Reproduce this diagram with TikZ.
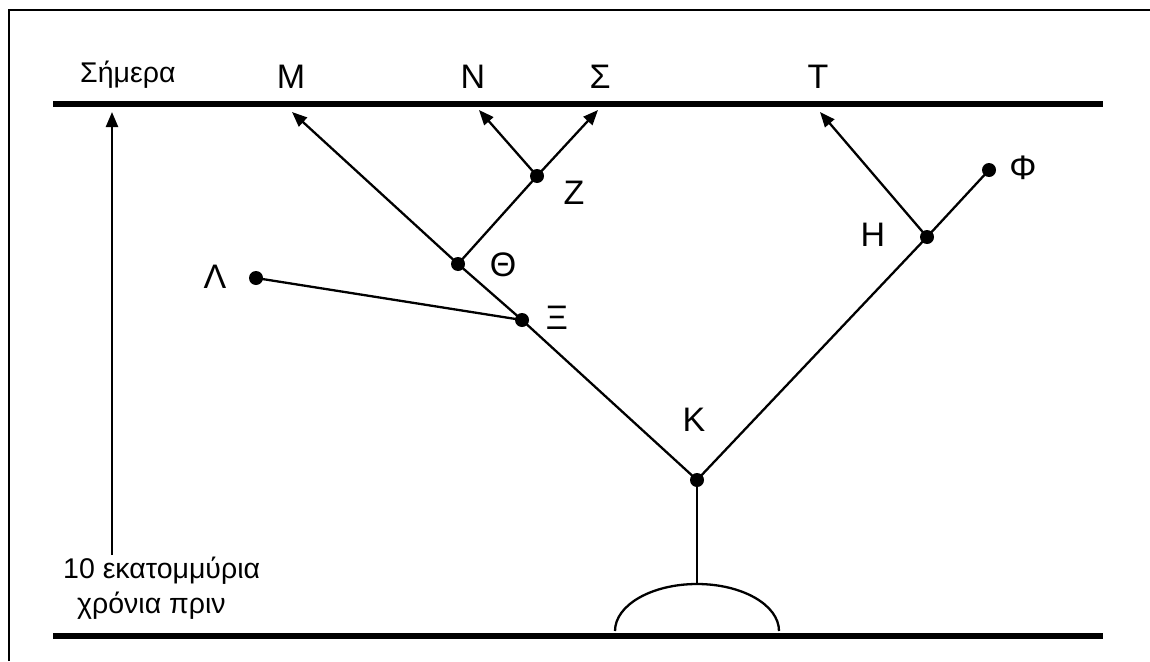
\documentclass[tikz,border=0pt]{standalone}
\usepackage{fontspec}
\setmainfont{Liberation Sans}
\usetikzlibrary{arrows.meta}
\begin{document}
\begin{tikzpicture}[x=1pt,y=-1pt,
  branch/.style={line width=2.3pt},
  evo/.style={branch,-{Triangle[length=15pt,width=12pt]}},
  dot/.style={circle,fill=black,minimum size=14pt,inner sep=0pt},
  big/.style={font=\fontsize{34}{38}\selectfont,inner sep=0pt},
  small/.style={font=\fontsize{28.5}{32}\selectfont,anchor=base west,inner sep=0pt},
  epoch/.style={line width=6.5pt}]
\useasboundingbox (0,0) rectangle (1150,661);

% frame
\draw[line width=2pt] (8.5,661) -- (8.5,10) -- (1150,10);

% present day and ten million years ago
\draw[epoch] (53,104) -- (1103,104);
\draw[epoch] (53,636) -- (1103,636);

% time axis
\node[small] (today) at (80,82) {Σήμερα};
\node[small] (past1) at (63,578) {10 εκατομμύρια};
\node[small] (past2) at (77,613) {χρόνια πριν};
\coordinate (axisfoot) at (112,555);
\coordinate (axistop) at (112,112);
\draw[evo] (axisfoot) -- (axistop);

% branching points
\node[dot] (K) at (697,480) {};
\node[dot] (Xi) at (522,320) {};
\node[dot] (Th) at (458,264) {};
\node[dot] (Z) at (537,176) {};
\node[dot] (L) at (256,278) {};
\node[dot] (H) at (927,237) {};
\node[dot] (F) at (989,170) {};

% living species at the present-day line
\coordinate (tM) at (292,112);
\coordinate (tN) at (479,110);
\coordinate (tS) at (598,110);
\coordinate (tT) at (820,112);
\coordinate (root) at (697,584);

% ancestral population
\draw[branch] (615,631) arc[start angle=180,end angle=360,x radius=82,y radius=47];

% tree
\draw[branch] (root) -- (K.center);
\draw[branch] (K.center) -- (Xi.center) -- (Th.center);
\draw[evo] (Th.center) -- (tM);
\draw[branch] (Th.center) -- (Z.center);
\draw[evo] (Z.center) -- (tN);
\draw[evo] (Z.center) -- (tS);
\draw[branch] (L.center) -- (Xi.center);
\draw[branch] (K.center) -- (H.center);
\draw[evo] (H.center) -- (tT);
\draw[branch] (H.center) -- (F.center);

% labels
\node[big] (lM) at (291,77) {Μ};
\node[big] (lN) at (473,77) {Ν};
\node[big] (lS) at (600,77) {Σ};
\node[big] (lT) at (818,77) {Τ};
\node[big] (lZ) at (574,193) {Ζ};
\node[big] (lTh) at (503,265) {Θ};
\node[big] (lL) at (215,277) {Λ};
\node[big] (lXi) at (557,318) {Ξ};
\node[big] (lK) at (694,420) {Κ};
\node[big] (lH) at (873,235) {Η};
\node[big] (lF) at (1023,168) {Φ};
\end{tikzpicture}
\end{document}
